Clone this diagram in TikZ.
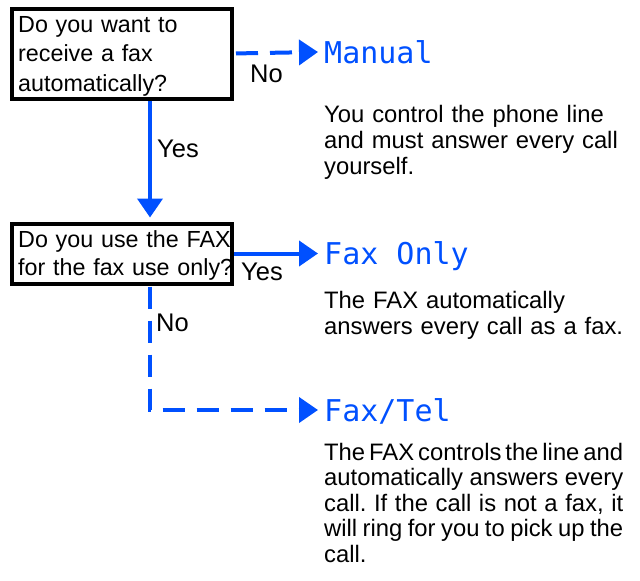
\documentclass[tikz,border=0pt]{standalone}
\usepackage{fontspec}
\setmainfont{Liberation Sans}
\newfontfamily\lcdfont{DejaVu Sans Mono}
\usetikzlibrary{arrows.meta}
\definecolor{fblue}{RGB}{0,80,255}
\frenchspacing
\newcommand{\jl}[1]{\makebox[299pt][s]{\spaceskip=.278em plus 1em minus .3em\xspaceskip=\spaceskip\relax #1}}
\begin{document}
\begin{tikzpicture}[x=1pt,y=-1pt,
  qframe/.style={draw=black, line width=4pt, minimum width=220pt, inner sep=0pt, outer sep=0pt},
  qtext/.style={inner sep=0pt, align=left, text width=216pt, anchor=base west},
  desc/.style={inner sep=0pt, align=left, text width=310pt, anchor=base west,
    font=\fontsize{23.8pt}{26pt}\selectfont},
  mode/.style={inner xsep=6pt, inner ysep=0pt, anchor=west, text=fblue,
    text height=22pt, text depth=0pt, font=\lcdfont\fontsize{30pt}{30pt}\selectfont},
  lab/.style={inner sep=0pt, anchor=base west, font=\fontsize{25.5pt}{26pt}\selectfont},
  flow/.style={draw=fblue, line width=4pt, -{Triangle[length=19pt,width=25pt]}},
  dflow/.style={flow, dash pattern=on 22pt off 12pt}
]
\useasboundingbox (0,0) rectangle (640,581);

% question boxes
\node[qframe, minimum height=90pt] (q1) at (122,53.5) {};
\node[qtext, font=\fontsize{23.3pt}{29.5pt}\selectfont] (q1t) at (18,32)
  {Do you want to\\receive a fax\\automatically?};
\node[qframe, minimum height=60pt] (q2) at (122,253.5) {};
\node[qtext, font=\fontsize{23.3pt}{28pt}\selectfont] (q2t) at (18,247)
  {Do you use the FAX\\for the fax use only?};

% modes
\node[mode] (manual) at (318,52) {Manual};
\node[mode] (faxonly) at (318,253.5) {Fax Only};
\node[mode] (faxtel) at (318,410) {Fax/Tel};

% descriptions
\node[desc] (d1) at (324,122) {You control the phone line\\and must answer every call\\yourself.};
\node[desc] (d2) at (324,308) {The FAX automatically\\answers every call as a fax.};
\node[desc, font=\fontsize{23.8pt}{25.6pt}\selectfont] (d3) at (324,460)
  {\jl{The FAX controls the line and}\\\jl{automatically answers every}\\\jl{call. If the call is not a fax, it}\\\jl{will ring for you to pick up the}\\call.};

% connectors
\coordinate (vx) at (150,0);
\draw[dflow, shorten <=4pt] (q1.east) -- (manual.west);
\draw[flow, shorten <=2pt, shorten >=6pt] (q1.south -| vx) -- (q2.north -| vx);
\draw[flow, shorten <=2pt] (q2.east) -- (faxonly.west);
\draw[dflow, shorten <=3pt] (q2.south -| vx) |- (faxtel.west);

% labels
\node[lab] (no1) at (250,82) {No};
\node[lab] (yes1) at (157,157) {Yes};
\node[lab] (yes2) at (241,280) {Yes};
\node[lab] (no2) at (156,331) {No};
\end{tikzpicture}
\end{document}
